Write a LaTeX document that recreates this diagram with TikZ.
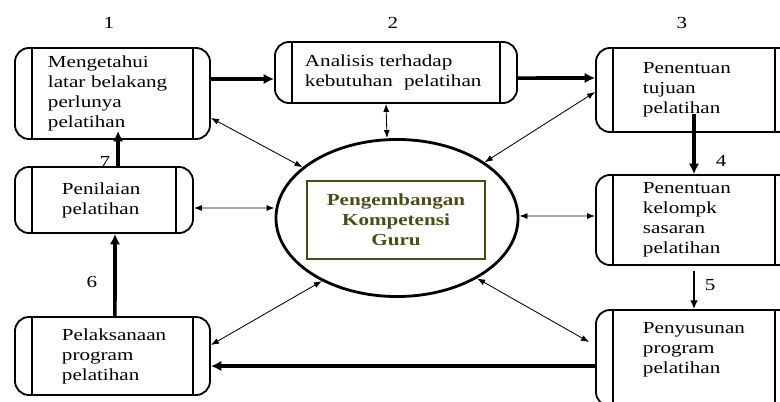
\documentclass[tikz,border=0pt]{standalone}
\usepackage{fontspec}
\setmainfont[FakeStretch=1.25]{Liberation Serif}
\usetikzlibrary{positioning,shapes.geometric,arrows.meta}
\definecolor{coreolive}{RGB}{76,76,26}
\hyphenpenalty=10000

\begin{document}
\begin{tikzpicture}[
  x=0.025cm, y=-0.025cm,
  font=\fontsize{12}{14.2}\selectfont,
  procbox/.style={draw=black, line width=1.3pt, rounded corners=0.35cm, align=left, inner ysep=0pt,
    path picture={
      \draw[line width=1.3pt] ([xshift=0.43cm]path picture bounding box.north west) -- ([xshift=0.43cm]path picture bounding box.south west);
      \draw[line width=1.3pt] ([xshift=-0.43cm]path picture bounding box.north east) -- ([xshift=-0.43cm]path picture bounding box.south east);
    }},
  hub/.style={ellipse, draw=black, line width=2pt, minimum width=6.05cm, minimum height=3.925cm},
  corebox/.style={draw=coreolive, line width=1.4pt, text=coreolive, font=\fontsize{12}{14.2}\selectfont\bfseries,
    align=center, minimum width=4.45cm, minimum height=1.95cm},
  steplabel/.style={inner sep=0pt},
  flow/.style={-{Latex[length=2.6mm,width=2.6mm]}, line width=2.6pt},
  thinflow/.style={-{Latex[length=2.2mm,width=2mm]}, line width=1.3pt},
  link/.style={{Latex[length=2mm,width=1.5mm]}-{Latex[length=2mm,width=1.5mm]}, line width=0.6pt}
]
\useasboundingbox (0,0) rectangle (780,401);
\clip (0,0) rectangle (780,401);

% Left column
\node[procbox, minimum height=2.275cm, text width=3.225cm, inner xsep=0.825cm] (know) at (112.5,93.5)
  {Mengetahui\\ latar belakang\\ perlunya\\ pelatihan};
\node[procbox, minimum height=1.65cm, text width=2.1cm, inner xsep=1.175cm] (eval) at (104,200)
  {Penilaian\\ pelatihan};
\node[procbox, minimum height=1.95cm, text width=2.525cm, inner xsep=1.175cm] (exec) at (112.5,356)
  {Pelaksanaan\\ program\\ pelatihan};

% Top middle
\node[procbox, minimum height=1.525cm, text width=4.55cm, inner xsep=0.75cm] (analysis) at (396,72.5)
  {Analisis terhadap\\ kebutuhan\ \ pelatihan};

% Right column
\node[procbox, minimum height=2.1cm, text width=2.55cm, inner xsep=1.175cm] (goal) at (694,90)
  {Penentuan\\ tujuan\\ pelatihan};
\node[procbox, minimum height=2.25cm, text width=2.55cm, inner xsep=1.175cm] (target) at (694,220)
  {Penentuan\\ kelompk\\ sasaran\\ pelatihan};
\node[procbox, minimum height=2.4cm, text width=2.55cm, inner xsep=1.175cm] (plan) at (694,358)
  {Penyusunan\\ program\\ pelatihan\\ \mbox{}};

% Centre
\node[hub] (hub) at (397,218) {};
\node[corebox] (core) at (396,220) {Pengembangan\\ Kompetensi\\ Guru};

% Step numbers
\node[steplabel, above=0.45cm of know, xshift=-0.09cm] (n1) {1};
\node[steplabel, above=0.31cm of analysis, xshift=-0.075cm] (n2) {2};
\node[steplabel, above=0.45cm of goal, xshift=-0.3cm] (n3) {3};

% Main cycle
\draw[flow] ([yshift=0.3625cm]know.east) -- ([yshift=-0.1625cm]analysis.west);
\draw[flow] ([yshift=-0.14cm]analysis.east) -- ([yshift=0.3cm]goal.west);
\draw[flow] ([yshift=0.475cm]goal.south) -- (target.north) node[steplabel, pos=0.79, right=0.5cm] {4};
\draw[thinflow] ([yshift=-0.12cm]target.south) -- (plan.north) node[steplabel, pos=0.375, right=0.25cm] {5};
\draw[flow] ([yshift=-0.2cm]plan.west) -- ([yshift=-0.25cm]exec.east);
\draw[flow] ([xshift=0.06cm]exec.north) -- ([xshift=0.275cm]eval.south) node[steplabel, pos=0.42, left=0.4cm] {6};
\draw[flow] ([xshift=0.35cm]eval.north) -- ([xshift=0.14cm, yshift=0.225cm]know.south) node[steplabel, pos=0.12, left=0.15cm] {7};

% Links to the centre
\draw[link] ([yshift=-0.61cm]know.east) -- (hub);
\draw[link] ([xshift=-0.25cm]analysis.south) -- ([xshift=-0.25cm]hub.north);
\draw[link] ([yshift=-0.05cm]goal.west) -- (hub);
\draw[link] ([yshift=-0.2cm]eval.east) -- ([yshift=0.25cm]hub.west);
\draw[link] ([yshift=0.1cm]target.west) -- ([yshift=0.05cm]hub.east);
\draw[link] ([yshift=0.275cm]exec.east) -- (hub.220);
\draw[link] ([xshift=-0.15cm, yshift=0.4cm]plan.west) -- (hub.323);

\end{tikzpicture}
\end{document}
